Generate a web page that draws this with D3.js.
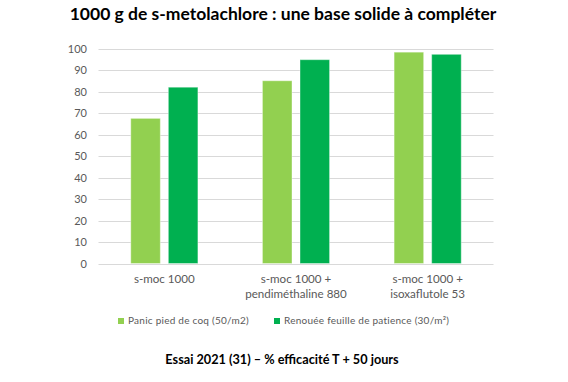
<!DOCTYPE html>
<html>
<head>
<meta charset="utf-8">
<script src="https://cdn.jsdelivr.net/npm/d3@7"></script>
<style>
  body { margin: 0; background: #fff; }
  text { font-family: Lato, "Open Sans", sans-serif; }
</style>
</head>
<body>
<script>
// chart values
var categories = [["s-moc 1000"], ["s-moc 1000 +", "pendiméthaline 880"], ["s-moc 1000 +", "isoxaflutole 53"]];
var seriesNames = ["Panic pied de coq (50/m2)", "Renouée feuille de patience (30/m²)"];
var panicValues = [67.5, 85, 98.3];
var renoueeValues = [82, 94.8, 97.3];
var yTicks = [0, 10, 20, 30, 40, 50, 60, 70, 80, 90, 100];
var colors = ["#92D050", "#00B050"];

var width = 568, height = 382;

var svg = d3.select("body").append("svg")
  .attr("width", width)
  .attr("height", height);

var x0 = d3.scaleBand()
  .domain(d3.range(categories.length))
  .range([98.5, 493.5])
  .paddingInner(0.49)
  .paddingOuter(0.245);

var x1 = d3.scaleBand()
  .domain([0, 1])
  .range([0, x0.bandwidth()])
  .paddingInner(0.213);

var y = d3.scaleLinear()
  .domain([0, 100])
  .range([263.5, 48.5]);

// gridlines
svg.append("g").selectAll("line")
  .data(yTicks)
  .enter().append("line")
  .attr("x1", 98.5)
  .attr("x2", 493.5)
  .attr("y1", function(d) { return Math.round(y(d)) + 0.5; })
  .attr("y2", function(d) { return Math.round(y(d)) + 0.5; })
  .attr("stroke", "#d9d9d9")
  .attr("stroke-width", 1);

// y axis labels
var yAxis = d3.axisLeft(y).tickValues(yTicks).tickSize(0).tickPadding(0);
var yg = svg.append("g")
  .attr("transform", "translate(87,0)")
  .call(yAxis);
yg.select(".domain").remove();
yg.selectAll("text")
  .attr("fill", "#595959")
  .style("font-size", "11px");

// bars
var rows = categories.map(function(c, i) {
  return [panicValues[i], renoueeValues[i]];
});

var groups = svg.append("g").selectAll("g")
  .data(rows)
  .enter().append("g")
  .attr("transform", function(d, i) { return "translate(" + x0(i) + ",0)"; });

groups.selectAll("rect")
  .data(function(d) { return d; })
  .enter().append("rect")
  .attr("x", function(d, j) { return x1(j); })
  .attr("y", function(d) { return y(d); })
  .attr("width", x1.bandwidth())
  .attr("height", function(d) { return y(0) - y(d); })
  .attr("fill", function(d, j) { return colors[j]; })
  .attr("stroke", "#ffffff")
  .attr("stroke-opacity", 0.4)
  .attr("stroke-width", 1);

// category labels
var catLabels = svg.append("g").selectAll("text")
  .data(categories)
  .enter().append("text")
  .attr("x", function(d, i) { return x0(i) + x0.bandwidth() / 2; })
  .attr("y", 283)
  .attr("text-anchor", "middle")
  .attr("fill", "#595959")
  .style("font-size", "11.6px");

catLabels.selectAll("tspan")
  .data(function(d) { return d; })
  .enter().append("tspan")
  .attr("x", function() { return d3.select(this.parentNode).attr("x"); })
  .attr("dy", function(d, i) { return i === 0 ? 0 : 15; })
  .text(function(d) { return d; });

// legend
var legendX = [118, 274];
var legend = svg.append("g").selectAll("g")
  .data(seriesNames)
  .enter().append("g")
  .attr("transform", function(d, i) { return "translate(" + legendX[i] + ",318)"; });

legend.append("rect")
  .attr("width", 6)
  .attr("height", 6)
  .attr("fill", function(d, i) { return colors[i]; });

legend.append("text")
  .attr("x", 10)
  .attr("y", 6)
  .attr("fill", "#595959")
  .style("font-size", "10px")
  .style("letter-spacing", "0.25px")
  .text(function(d) { return d; });

// title
svg.append("text")
  .attr("x", 283)
  .attr("y", 20)
  .attr("text-anchor", "middle")
  .attr("fill", "#000")
  .style("font-size", "17.5px")
  .style("font-weight", "bold")
  .text("1000 g de s-metolachlore : une base solide à compléter");

// footer
svg.append("text")
  .attr("x", 282)
  .attr("y", 364)
  .attr("text-anchor", "middle")
  .attr("fill", "#000")
  .style("font-size", "12.7px")
  .style("font-weight", "bold")
  .text("Essai 2021 (31) – % efficacité T + 50 jours");
</script>
</body>
</html>
